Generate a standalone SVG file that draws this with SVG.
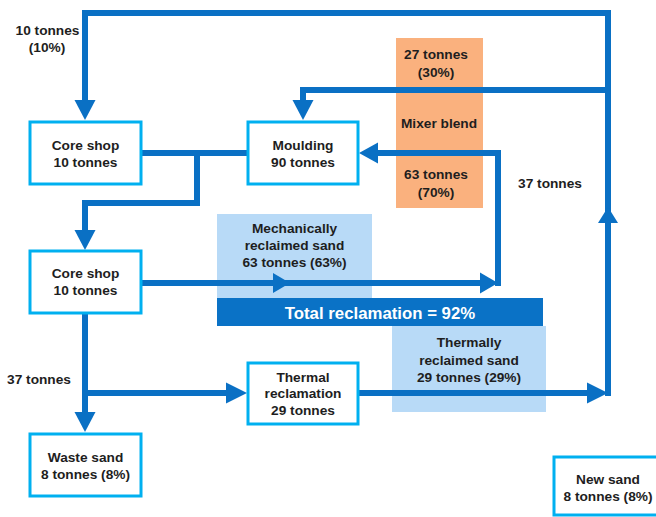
<svg xmlns="http://www.w3.org/2000/svg" width="656" height="517" viewBox="0 0 656 517">
<style>
text{font-family:"Liberation Sans",Arial,sans-serif;font-weight:bold;font-size:13.7px;fill:#1e1e1e;text-anchor:middle}
.box{fill:#fff;stroke:#00B0F0;stroke-width:3}
.ln{fill:none;stroke:#0A70C4;stroke-width:6;stroke-linejoin:miter;stroke-linecap:butt}
.ah{fill:#0A70C4}
.lb{fill:#B8DAF7}
</style>
<rect width="656" height="517" fill="#fff"/>
<g id="backgrounds">
<rect id="mixer-blend-bg" x="396" y="38" width="87" height="170" fill="#FAB17E"/>
<rect id="mech-bg" class="lb" x="217" y="214" width="155" height="85"/>
<rect id="therm-bg" class="lb" x="392" y="326" width="154" height="86"/>
</g>
<g id="mixer-text">
<text x="436" y="59">27 tonnes</text>
<text x="436" y="77">(30%)</text>
<text x="439" y="128">Mixer blend</text>
<text x="436" y="179">63 tonnes</text>
<text x="436" y="197">(70%)</text>
</g>
<g id="mech-text">
<text x="294.5" y="233">Mechanically</text>
<text x="294.5" y="250">reclaimed sand</text>
<text x="294.5" y="267">63 tonnes (63%)</text>
</g>
<g id="therm-text">
<text x="469" y="347">Thermally</text>
<text x="469" y="365">reclaimed sand</text>
<text x="469" y="382">29 tonnes (29%)</text>
</g>
<g id="connectors">
<path class="ln" d="M608,396 V13 H85 V101"/>
<polygon class="ah" points="74.5,100 95.5,100 85,120"/>
<path class="ln" d="M608,90 H303 V101"/>
<polygon class="ah" points="292.5,100 313.5,100 303,120"/>
<path class="ln" d="M141,153 H247"/>
<path class="ln" d="M197,153 V203 H85 V231"/>
<polygon class="ah" points="74.5,230 95.5,230 85,250"/>
<path class="ln" d="M141,283 H481"/>
<polygon class="ah" points="273,273 290,283 273,293"/>
<polygon class="ah" points="480,272.5 498,283 480,293.5"/>
<path class="ln" d="M498,286 V153 H377"/>
<polygon class="ah" points="378,142.5 359,153 378,163.5"/>
<path class="ln" d="M85,313 V413"/>
<polygon class="ah" points="74.5,412 95.5,412 85,432"/>
<path class="ln" d="M85,393 H227"/>
<polygon class="ah" points="226,382.5 247,393 226,403.5"/>
<path class="ln" d="M358,393 H588"/>
<polygon class="ah" points="587,382.5 608,393 587,403.5"/>
<polygon class="ah" points="598,223 618,223 608,207"/>
</g>
<g id="total-reclamation">
<rect x="217" y="298" width="326" height="28" fill="#0A72C6"/>
<text x="380" y="319" style="font-size:16.8px;fill:#fff">Total reclamation = 92%</text>
</g>
<g id="labels">
<text x="47.5" y="35">10 tonnes</text>
<text x="47" y="52">(10%)</text>
<text x="550" y="188">37 tonnes</text>
<text x="39" y="384">37 tonnes</text>
</g>
<g id="core-shop-1">
<rect class="box" x="30" y="122" width="111" height="62"/>
<text x="85.5" y="150">Core shop</text>
<text x="85.5" y="167">10 tonnes</text>
</g>
<g id="moulding">
<rect class="box" x="248" y="122" width="110" height="62"/>
<text x="303" y="150">Moulding</text>
<text x="303" y="167">90 tonnes</text>
</g>
<g id="core-shop-2">
<rect class="box" x="30" y="251" width="111" height="62"/>
<text x="85.5" y="278">Core shop</text>
<text x="85.5" y="295">10 tonnes</text>
</g>
<g id="thermal-reclamation">
<rect class="box" x="248" y="363" width="110" height="61"/>
<text x="303" y="382">Thermal</text>
<text x="303" y="398">reclamation</text>
<text x="303" y="415">29 tonnes</text>
</g>
<g id="waste-sand">
<rect class="box" x="30" y="434" width="111" height="62"/>
<text x="85.5" y="462">Waste sand</text>
<text x="85.5" y="479">8 tonnes (8%)</text>
</g>
<g id="new-sand">
<rect class="box" x="554" y="457" width="105" height="58"/>
<text x="608" y="484">New sand</text>
<text x="608" y="501">8 tonnes (8%)</text>
</g>
</svg>
